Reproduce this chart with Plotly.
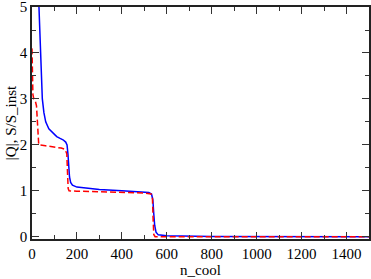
import plotly.graph_objects as go

# blue: |Q|
q_n = [12, 18, 25, 31, 37, 46, 53, 61, 75, 94, 110, 125, 138, 150, 156, 160, 163, 167, 172,
       180, 200, 250, 300, 400, 480, 520, 532, 538, 542, 546, 552, 562, 600, 700, 800, 1500]
q_v = [20, 9.0, 6.5, 5.0, 4.0, 3.0, 2.7, 2.5, 2.35, 2.25, 2.18, 2.14, 2.11, 2.06, 2.0, 1.8, 1.5,
       1.3, 1.18, 1.12, 1.08, 1.05, 1.03, 1.0, 0.98, 0.96, 0.93, 0.8, 0.5, 0.25, 0.1, 0.04,
       0.02, 0.01, 0.005, 0.0]

# red dashed: S/S_inst
s_n = [0, 2, 4, 8, 15, 20, 24, 27, 30, 60, 100, 130, 148, 155, 158, 161, 165, 200, 300, 400,
       500, 530, 536, 539, 542, 548, 1500]
s_v = [4.1, 3.6, 3.1, 3.0, 2.95, 2.85, 2.5, 2.1, 2.0, 1.98, 1.96, 1.93, 1.9, 1.8, 1.4, 1.05,
       1.0, 0.99, 0.98, 0.97, 0.95, 0.93, 0.85, 0.4, 0.05, 0.0, 0.0]

x_ticks = [0, 200, 400, 600, 800, 1000, 1200, 1400]
y_ticks = [0, 1, 2, 3, 4, 5]

fig = go.Figure()
fig.add_trace(go.Scatter(x=q_n, y=q_v, mode="lines",
                         line=dict(color="#0000ff", width=1.5), showlegend=False))
fig.add_trace(go.Scatter(x=s_n, y=s_v, mode="lines",
                         line=dict(color="#ff0000", width=1.5, dash="6px,3px"), showlegend=False))

font = dict(family="Liberation Serif, Times New Roman, serif", size=15, color="black")
fig.update_layout(
    width=371, height=279,
    margin=dict(l=32, r=2, t=7, b=40),
    paper_bgcolor="white", plot_bgcolor="white",
    font=font,
    xaxis=dict(range=[0, 1500], tickvals=x_ticks, ticks="inside", ticklen=7, tickwidth=1,
               tickcolor="#333", showline=True, linecolor="#222", linewidth=1.5, mirror="ticks",
               showgrid=False, zeroline=False, automargin=False, ticklabeloverflow="allow",
               minor=dict(ticks="inside", ticklen=4, tickcolor="#333", dtick=100, showgrid=False),
               title=dict(text="n_cool", font=font, standoff=0), tickfont=font),
    yaxis=dict(range=[-0.05, 5.001], tickvals=y_ticks, ticks="inside", ticklen=7, tickwidth=1,
               tickcolor="#333", showline=True, linecolor="#222", linewidth=1.5, mirror="ticks",
               showgrid=False, zeroline=False, automargin=False, ticklabeloverflow="allow",
               minor=dict(ticks="inside", ticklen=4, tickcolor="#333", dtick=0.5, showgrid=False),
               title=dict(text="|Q|, S/S_inst", font=font, standoff=0), tickfont=font),
)
fig.write_html("out.html", config={"displayModeBar": False},
               post_script="document.body.style.margin='0';")
